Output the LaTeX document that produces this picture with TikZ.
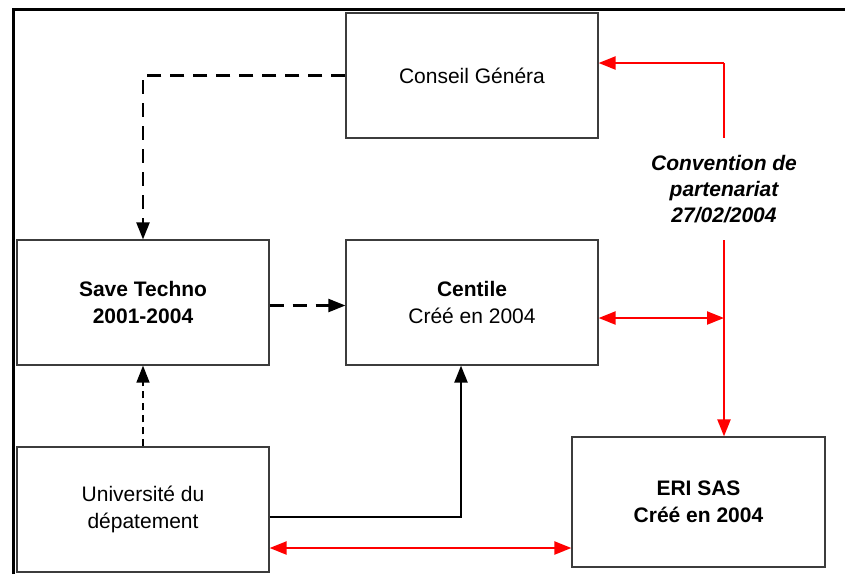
\documentclass[tikz,border=0pt]{standalone}
\usepackage{fontspec}
\setmainfont{Liberation Sans}
\usetikzlibrary{arrows.meta, positioning, calc}
\definecolor{BoxRand}{RGB}{60,60,60}
\definecolor{VertragRot}{RGB}{255,0,0}

\begin{document}
\begin{tikzpicture}[x=1pt, y=-1pt,
    box/.style={shape=rectangle, draw=BoxRand, line width=1.2pt, minimum width=252pt, minimum height=125pt, align=center, font=\fontsize{21}{27}\selectfont},
    dashpfeil/.style={line width=2.2pt, dash pattern=on 14pt off 9pt, -{Triangle[length=17pt, width=13pt]}},
    duennpfeil/.style={line width=1.4pt, dash pattern=on 7pt off 5pt, -{Triangle[length=17pt, width=13pt]}},
    pfeil/.style={line width=2.2pt, -{Triangle[length=17pt, width=13pt]}},
    rot/.style={line width=2.2pt, VertragRot},
    rotpfeil/.style={rot, -{Triangle[length=17pt, width=13pt]}},
    rotbeide/.style={rot, {Triangle[length=17pt, width=13pt]}-{Triangle[length=17pt, width=13pt]}}]
    \useasboundingbox (0,0) rectangle (845,574);
    \draw[line width=3pt] (13,574) -- (13,9) -- (845,9);

    \node[box] (conseil) at (472, 75.5)  {Conseil Généra};
    \node[box] (save)    at (143, 302.5) {\textbf{Save Techno}\\\textbf{2001-2004}};
    \node[box] (centile) at (472, 302.5) {\textbf{Centile}\\Créé en 2004};
    \node[box] (univ)    at (143, 509.5) {Université du\\dépatement};
    \node[box, minimum width=253pt, minimum height=130pt] (eri) at (698.5, 502) {\textbf{ERI SAS}\\\textbf{Créé en 2004}};

    \node[minimum height=102pt, inner sep=0pt, align=center, font=\fontsize{21}{26}\selectfont\bfseries\itshape] (conv) at (724, 189) {Convention de\\partenariat\\27/02/2004};
    \coordinate (oben) at (724, 63);
    \coordinate (knoten) at (724, 318);

    \path[dashpfeil]  (conseil.west) edge[to path={-| (\tikztotarget)}] (save.north);
    \path[dashpfeil]  ([yshift=-3pt]save.east) edge ([yshift=-3pt]centile.west);
    \path[duennpfeil] (univ.north) edge (save.south);
    \path[pfeil]      ([yshift=-7.5pt]univ.east) edge[to path={-| (\tikztotarget)}] ([xshift=-11pt]centile.south);

    \path[rotpfeil]   (oben) edge (oben -| conseil.east);
    \path[rot]        (oben) edge (conv.north);
    \path[rotpfeil]   (conv.south) edge (conv.south |- eri.north);
    \path[rotbeide]   (knoten -| centile.east) edge (knoten);
    \path[rotbeide]   ([yshift=-38.5pt]univ.east) edge ([yshift=-38.5pt]univ.east -| eri.west);
\end{tikzpicture}
\end{document}
